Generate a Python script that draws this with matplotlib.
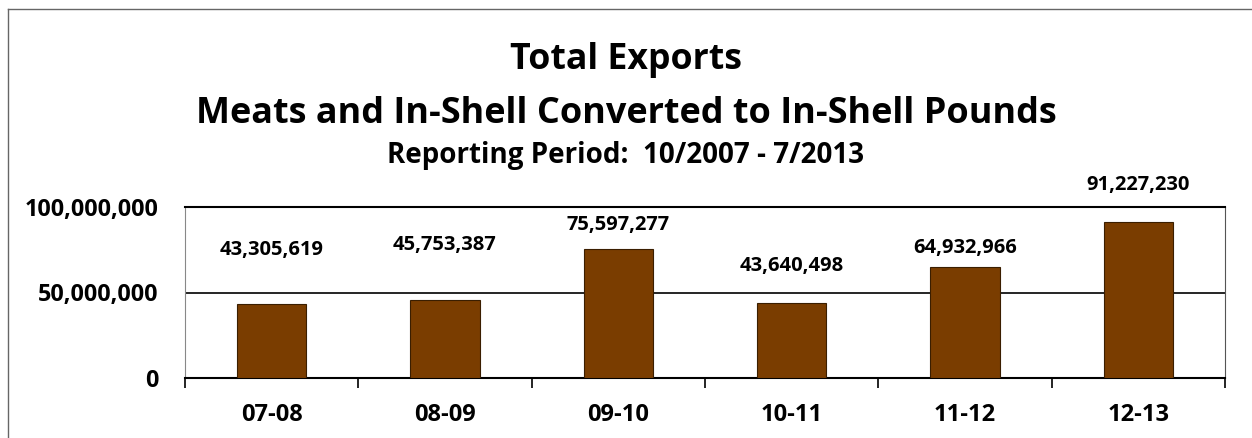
import matplotlib
matplotlib.use("Agg")
import matplotlib.pyplot as plt
from matplotlib.ticker import FuncFormatter

# Data
seasons = ["07-08", "08-09", "09-10", "10-11", "11-12", "12-13"]
exports = [43305619, 45753387, 75597277, 43640498, 64932966, 91227230]
# where Excel left the value labels (data units)
label_y = [74.6e6, 78.0e6, 89.6e6, 65.3e6, 76.3e6, 112.7e6]

plt.rcParams['font.family'] = ['Open Sans', 'DejaVu Sans']
plt.rcParams['font.weight'] = 'bold'

W, H = 1252, 438
fig = plt.figure(figsize=(W / 100, H / 100), dpi=100)
ax = fig.add_axes([185 / W, 1 - 378 / H, 1040 / W, 171 / H])

x = range(len(seasons))
ax.bar(x, exports, width=0.40, color="#7a3d00", edgecolor="#3a1e00", linewidth=0.8, zorder=3)

for i, (v, ly) in enumerate(zip(exports, label_y)):
    ax.text(i, ly, f"{v:,}", ha="center", va="center", fontsize=14.5, fontweight="bold")

ax.set_xlim(-0.5, len(seasons) - 0.5)
ax.set_ylim(0, 100e6)
ax.set_yticks([0, 50e6, 100e6])
ax.yaxis.set_major_formatter(FuncFormatter(lambda v, p: f"{int(v):,}"))
ax.set_xticks(list(x))
ax.set_xticklabels(seasons)
ax.set_xticks([i + 0.5 for i in range(-1, len(seasons))], minor=True)
ax.tick_params(axis="x", which="major", length=0, pad=18, labelsize=17)
ax.tick_params(axis="x", which="minor", length=7, width=1.2, color="black")
ax.tick_params(axis="y", length=0, pad=19, labelsize=16.8)
for lbl in ax.get_xticklabels() + ax.get_yticklabels():
    lbl.set_fontweight("bold")

ax.grid(axis="y", color="black", linewidth=1.2, zorder=0)
ax.spines["top"].set_color("black")
ax.spines["top"].set_linewidth(1.5)
ax.spines["left"].set_color("#888888")
ax.spines["right"].set_color("#555555")
ax.spines["bottom"].set_linewidth(1.5)

# titles
fig.text(0.5, 1 - 69 / H, "Total Exports", ha="center", va="baseline", fontsize=25.7, fontweight="bold")
fig.text(0.5, 1 - 123 / H, "Meats and In-Shell Converted to In-Shell Pounds", ha="center", va="baseline",
         fontsize=25.9, fontweight="bold")
fig.text(0.5, 1 - 163 / H, "Reporting Period:  10/2007 - 7/2013", ha="center", va="baseline",
         fontsize=20, fontweight="bold")

# outer frame of the chart area
fig.add_artist(plt.Line2D([8 / W, 8 / W], [0, 1 - 9 / H], color="#666666", linewidth=1))
fig.add_artist(plt.Line2D([8 / W, 1], [1 - 9 / H, 1 - 9 / H], color="#666666", linewidth=1))

fig.savefig("out.png", dpi=100)
